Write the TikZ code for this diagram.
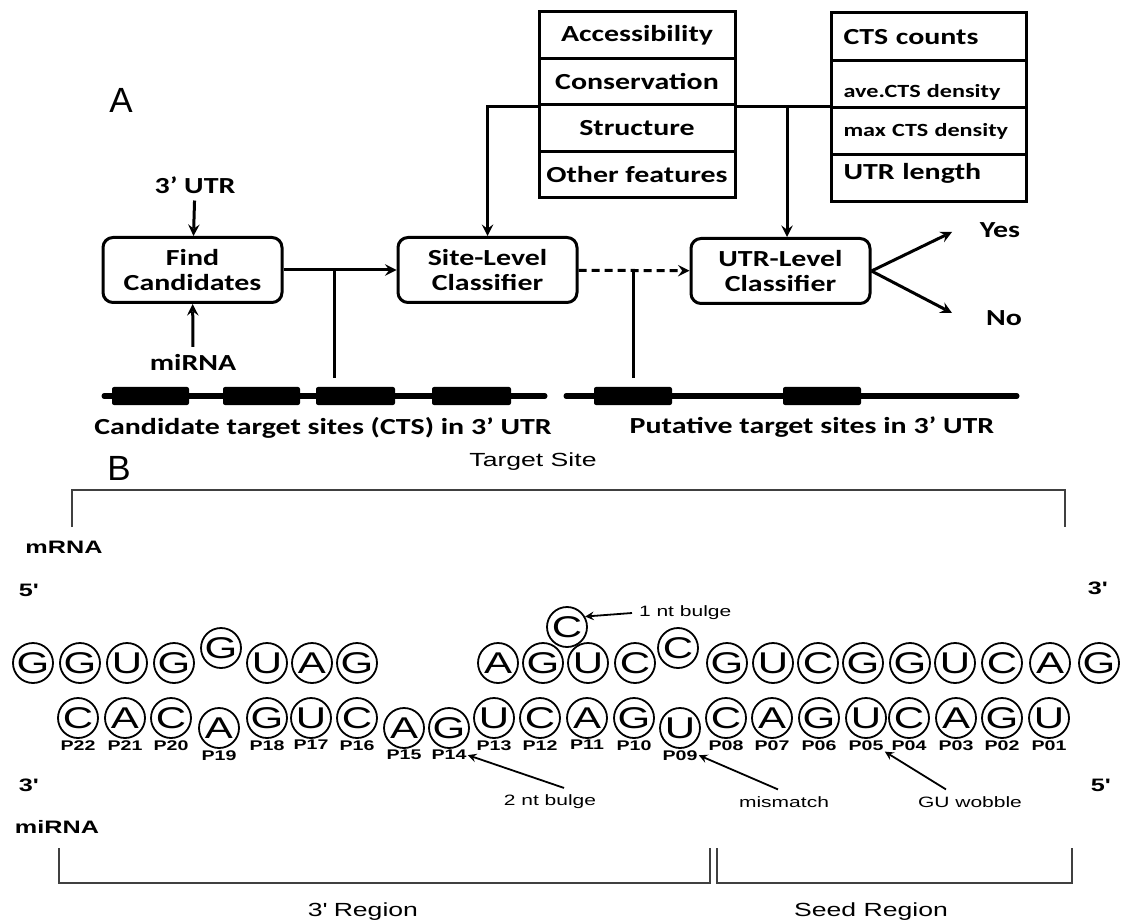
\documentclass[tikz,border=0pt]{standalone}
\usepackage{fontspec}
\newfontfamily\calfont{Carlito}[FakeStretch=1.3]
\newfontfamily\arifont{Liberation Sans}[FakeStretch=1.4]
\newfontfamily\plainari{Liberation Sans}
\tikzset{
  stage/.style={draw, rounded corners=5pt, line width=1.5pt, minimum width=89.5pt, minimum height=32.5pt, inner sep=1pt, align=center, font=\calfont\bfseries\fontsize{11.5}{12.5}\selectfont},
  featA/.style={draw, line width=1.5pt, minimum width=98pt, minimum height=23.25pt, inner sep=0pt, font=\calfont\bfseries\fontsize{11.5}{12}\selectfont},
  featB/.style={draw, line width=1.5pt, text width=85pt, inner xsep=6.25pt, inner ysep=0pt, minimum height=23.6pt, align=left, font=\calfont\bfseries\fontsize{11.5}{12}\selectfont},
  dens/.style={font=\calfont\bfseries\fontsize{9.3}{10}\selectfont},
  inlab/.style={font=\calfont\bfseries\fontsize{11.5}{12}\selectfont},
  flowline/.style={line width=1.5pt},
  ctsbar/.style={fill=black, rounded corners=1pt},
  nt/.style={draw, circle, line width=0.9pt, minimum size=20pt, inner sep=0pt, font=\arifont\fontsize{15}{15}\selectfont},
  plab/.style={font=\arifont\bfseries\fontsize{7}{7}\selectfont, inner sep=0.5pt},
  sidenote/.style={font=\arifont\fontsize{7.5}{8}\selectfont},
  endmark/.style={font=\arifont\bfseries\fontsize{9}{10}\selectfont},
  regionlab/.style={font=\arifont\fontsize{9.5}{10}\selectfont},
  bracketline/.style={line width=0.9pt, black!75},
  noteline/.style={line width=0.9pt},
}
\begin{document}
\begin{tikzpicture}[x=0.5pt, y=-0.5pt, >=stealth]
\useasboundingbox (0,0) rectangle (1122,924);

% panel A
\node[font=\plainari\fontsize{17.5}{18}\selectfont] (pa) at (121,100) {A};
\node[inlab] (utrin) at (195,185) {3’ UTR};
\node[stage] (find) at (192.5,270) {Find\\Candidates};
\node[inlab] (mirin) at (193,362) {miRNA};
\node[stage] (site) at (487.5,270) {Site-Level\\Classifier};
\node[stage] (utrcls) at (780.5,271) {UTR-Level\\Classifier};

\node[featA] (acc) at (637,35.25) {Accessibility};
\node[featA] (cons) at (637,81.75) {Conservation};
\node[featA] (struc) at (637,128.25) {Structure};
\node[featA] (other) at (637,174.75) {Other features};

\node[featB] (cts) at (928.5,36.6) {CTS counts};
\node[featB, dens, text height=15.5pt] (ave) at (928.5,83.9) {ave.CTS density};
\node[featB, dens] (maxd) at (928.5,131.1) {max CTS density};
\node[featB, text depth=7.3pt] (ulen) at (928.5,178.4) {UTR length};

\node[inlab] (yes) at (1000,230) {Yes};
\node[inlab] (no) at (1004,318) {No};
\coordinate (yestip) at (952,232);
\coordinate (notip) at (952,313);
\coordinate (tojoin) at (787,105);
\coordinate (cand) at (334,378);
\coordinate (puta) at (633,378);

\draw[->, flowline] (utrin) -- (find);
\draw[->, flowline] (mirin) -- (find);
\draw[->, flowline] (find) -- (site);
\draw[->, flowline, dash pattern=on 4pt off 2.5pt] (site) -- (utrcls);
\draw[->, flowline] (cons.south west) -| (site.north);
\draw[flowline] (cons.south east) -- (cons.south east -| ave.west);
\draw[->, flowline] (tojoin) -- (tojoin |- utrcls.north);
\draw[->, flowline] (utrcls.east) -- (yestip);
\draw[->, flowline] (utrcls.east) -- (notip);
\draw[flowline] (cand) -- (cand |- find.east);
\draw[flowline] (puta) -- (puta |- site.east);

% 3' UTR with sites
\draw[line width=2.5pt, line cap=round] (104,396) -- (545,396);
\draw[line width=2.5pt, line cap=round] (566,396) -- (1017,396);
\fill[ctsbar] (112,387) rectangle (189,405);
\fill[ctsbar] (223,387) rectangle (300,405);
\fill[ctsbar] (316,387) rectangle (395,405);
\fill[ctsbar] (432,387) rectangle (511,405);
\fill[ctsbar] (594,387) rectangle (672,405);
\fill[ctsbar] (783,387) rectangle (861,405);
\node[inlab] (candlab) at (323,428) {Candidate target sites (CTS) in 3’ UTR};
\node[inlab] (putlab) at (812,427) {Putative target sites in 3’ UTR};

% panel B
\node[font=\plainari\fontsize{17.5}{18}\selectfont] (pb) at (119,468) {B};
\node[regionlab] (tsite) at (533,462) {Target Site};
\draw[bracketline] (72,527) -- (72,490) -- (1065,490) -- (1065,527);
\node[endmark] (mrna) at (64,547) {mRNA};
\node[endmark] (m5) at (28,590) {5\textquotesingle};
\node[endmark] (m3) at (1097,588) {3\textquotesingle};

\node[nt] (m01) at (33,663) {G};
\node[nt] (m02) at (80,663) {G};
\node[nt] (m03) at (127,663) {U};
\node[nt] (m04) at (174,663) {G};
\node[nt] (m05) at (221,648) {G};
\node[nt] (m06) at (267,663) {U};
\node[nt] (m07) at (312,663) {A};
\node[nt] (m08) at (357,663) {G};
\node[nt] (m09) at (498,663) {A};
\node[nt] (m10) at (543,663) {G};
\node[nt] (m11) at (588,663) {U};
\node[nt] (m12) at (635,663) {C};
\node[nt] (m13) at (678,648) {C};
\node[nt] (m14) at (727,663) {G};
\node[nt] (m15) at (773,663) {U};
\node[nt] (m16) at (818,663) {C};
\node[nt] (m17) at (863,663) {G};
\node[nt] (m18) at (910,663) {G};
\node[nt] (m19) at (955,663) {U};
\node[nt] (m20) at (1002,663) {C};
\node[nt] (m21) at (1050,663) {A};
\node[nt] (m22) at (1099,663) {G};
\node[nt] (mb) at (567,627) {C};
\node[sidenote, anchor=west] (bulge1) at (632,613) {1 nt bulge};
\draw[->, noteline] (bulge1.west) -- (mb.30);

\node[nt, label={[plab, name=l22]below:P22}] (p22) at (78,718) {C};
\node[nt, label={[plab, name=l21]below:P21}] (p21) at (125,718) {A};
\node[nt, label={[plab, name=l20]below:P20}] (p20) at (171,718) {C};
\node[nt, label={[plab, name=l19]below:P19}] (p19) at (219,728) {A};
\node[nt, label={[plab, name=l18]below:P18}] (p18) at (267,718) {G};
\node[nt, label={[plab, name=l17]below:P17}] (p17) at (311,718) {U};
\node[nt, label={[plab, name=l16]below:P16}] (p16) at (357,718) {C};
\node[nt, label={[plab, name=l15]below:P15}] (p15) at (404,728) {A};
\node[nt, label={[plab, name=l14]below:P14}] (p14) at (449,728) {G};
\node[nt, label={[plab, name=l13]below:P13}] (p13) at (494,718) {U};
\node[nt, label={[plab, name=l12]below:P12}] (p12) at (540,718) {C};
\node[nt, label={[plab, name=l11]below:P11}] (p11) at (587,718) {A};
\node[nt, label={[plab, name=l10]below:P10}] (p10) at (634,718) {G};
\node[nt, label={[plab, name=l09]below:P09}] (p09) at (680,728) {U};
\node[nt, label={[plab, name=l08]below:P08}] (p08) at (726,718) {C};
\node[nt, label={[plab, name=l07]below:P07}] (p07) at (772,718) {A};
\node[nt, label={[plab, name=l06]below:P06}] (p06) at (819,718) {G};
\node[nt, label={[plab, name=l05]below:P05}] (p05) at (866,718) {U};
\node[nt, label={[plab, name=l04]below:P04}] (p04) at (909,718) {C};
\node[nt, label={[plab, name=l03]below:P03}] (p03) at (956,718) {A};
\node[nt, label={[plab, name=l02]below:P02}] (p02) at (1002,718) {G};
\node[nt, label={[plab, name=l01]below:P01}] (p01) at (1049,718) {U};

\node[endmark] (r3) at (28,785) {3\textquotesingle};
\node[endmark] (r5) at (1100,785) {5\textquotesingle};
\node[endmark] (mirlab) at (57,827) {miRNA};
\node[sidenote] (bulge2) at (550,802) {2 nt bulge};
\node[sidenote] (mism) at (784,802) {mismatch};
\node[sidenote] (wob) at (970,802) {GU wobble};
\draw[->, noteline] ([xshift=7pt]bulge2.north) -- (l14.east);
\draw[->, noteline] ([xshift=-3pt]mism.north) -- (l09.east);
\draw[->, noteline] ([xshift=-12pt]wob.north) -- (l05.south east);

\draw[bracketline] (59,848) -- (59,883) -- (710,883) -- (710,848);
\draw[bracketline] (717,848) -- (717,883) -- (1072,883) -- (1072,848);
\node[regionlab] (reg3) at (363,912) {3\textquotesingle{} Region};
\node[regionlab] (regs) at (871,912) {Seed Region};
\end{tikzpicture}
\end{document}
